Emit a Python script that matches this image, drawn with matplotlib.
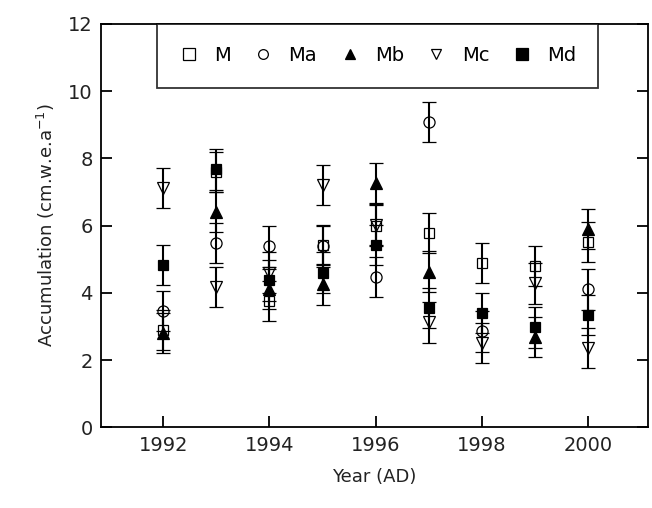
import numpy as np
import matplotlib
matplotlib.use("Agg")
import matplotlib.pyplot as plt

nan = np.nan
years = [1992, 1993, 1994, 1995, 1996, 1997, 1998, 1999, 2000]
M  = [2.89, 7.60, 3.75, 5.42, 6.00, 5.77, 4.89, 4.80, 5.52]
Ma = [3.46, 5.49, 5.38, 5.38, 4.46, 9.08, 2.85, nan, 4.10]
Mb = [2.80, 6.41, 4.12, 4.25, 7.27, 4.63, nan, 2.69, 5.89]
Mc = [7.11, 4.18, 4.60, 7.21, 6.03, 3.12, 2.50, 4.28, 2.36]
Md = [4.82, 7.67, 4.37, 4.60, 5.42, 3.55, 3.39, 2.97, 3.34]
err = 0.6

series = [
    ("M", M, "s", "none"),
    ("Ma", Ma, "o", "none"),
    ("Mb", Mb, "^", "black"),
    ("Mc", Mc, "v", "none"),
    ("Md", Md, "s", "black"),
]

fig = plt.figure(figsize=(6.52, 5.08), dpi=100)
ax = fig.add_axes([0.155, 0.159, 0.839, 0.794])

for name, vals, mk, fc in series:
    ax.errorbar(years, vals, yerr=err, fmt=mk, mfc=fc, mec="black",
                ms=7.5 if mk == "s" else 8, mew=0.9, ecolor="black",
                elinewidth=1.5, capsize=5, capthick=1.5, label=name)

ax.set_xlim(1990.83, 2001.13)
ax.set_ylim(0, 12)
ax.set_xticks([1992, 1994, 1996, 1998, 2000])
ax.set_yticks([0, 2, 4, 6, 8, 10, 12])
ax.tick_params(direction="in", length=8, width=1.3, labelsize=14,
               right=True, top=False, pad=6, labelcolor="#222222")
for s in ax.spines.values():
    s.set_linewidth(1.3)

ax.set_xlabel("Year (AD)", fontsize=13, labelpad=10, color="#222222")
ax.set_ylabel("Accumulation (cm.w.e.a$^{-1}$)", fontsize=13, labelpad=8,
              color="#222222")

leg_handles = [plt.Line2D([], [], ls="none", marker=mk, mfc=fc, mec="black",
                          ms=8.5 if mk == "s" else 7, mew=0.9)
               for name, vals, mk, fc in series]
leg = ax.legend(leg_handles, [s[0] for s in series], ncol=5,
                loc="upper left", bbox_to_anchor=(0.102, 0.0, 0.807, 1.0),
                mode="expand", fontsize=14, frameon=True, fancybox=False,
                borderpad=1.15, handletextpad=0.8, handlelength=1.0,
                borderaxespad=0.0, columnspacing=1.0)
leg.get_frame().set_edgecolor("black")
leg.get_frame().set_linewidth(1.3)

fig.savefig("out.png", dpi=100)
